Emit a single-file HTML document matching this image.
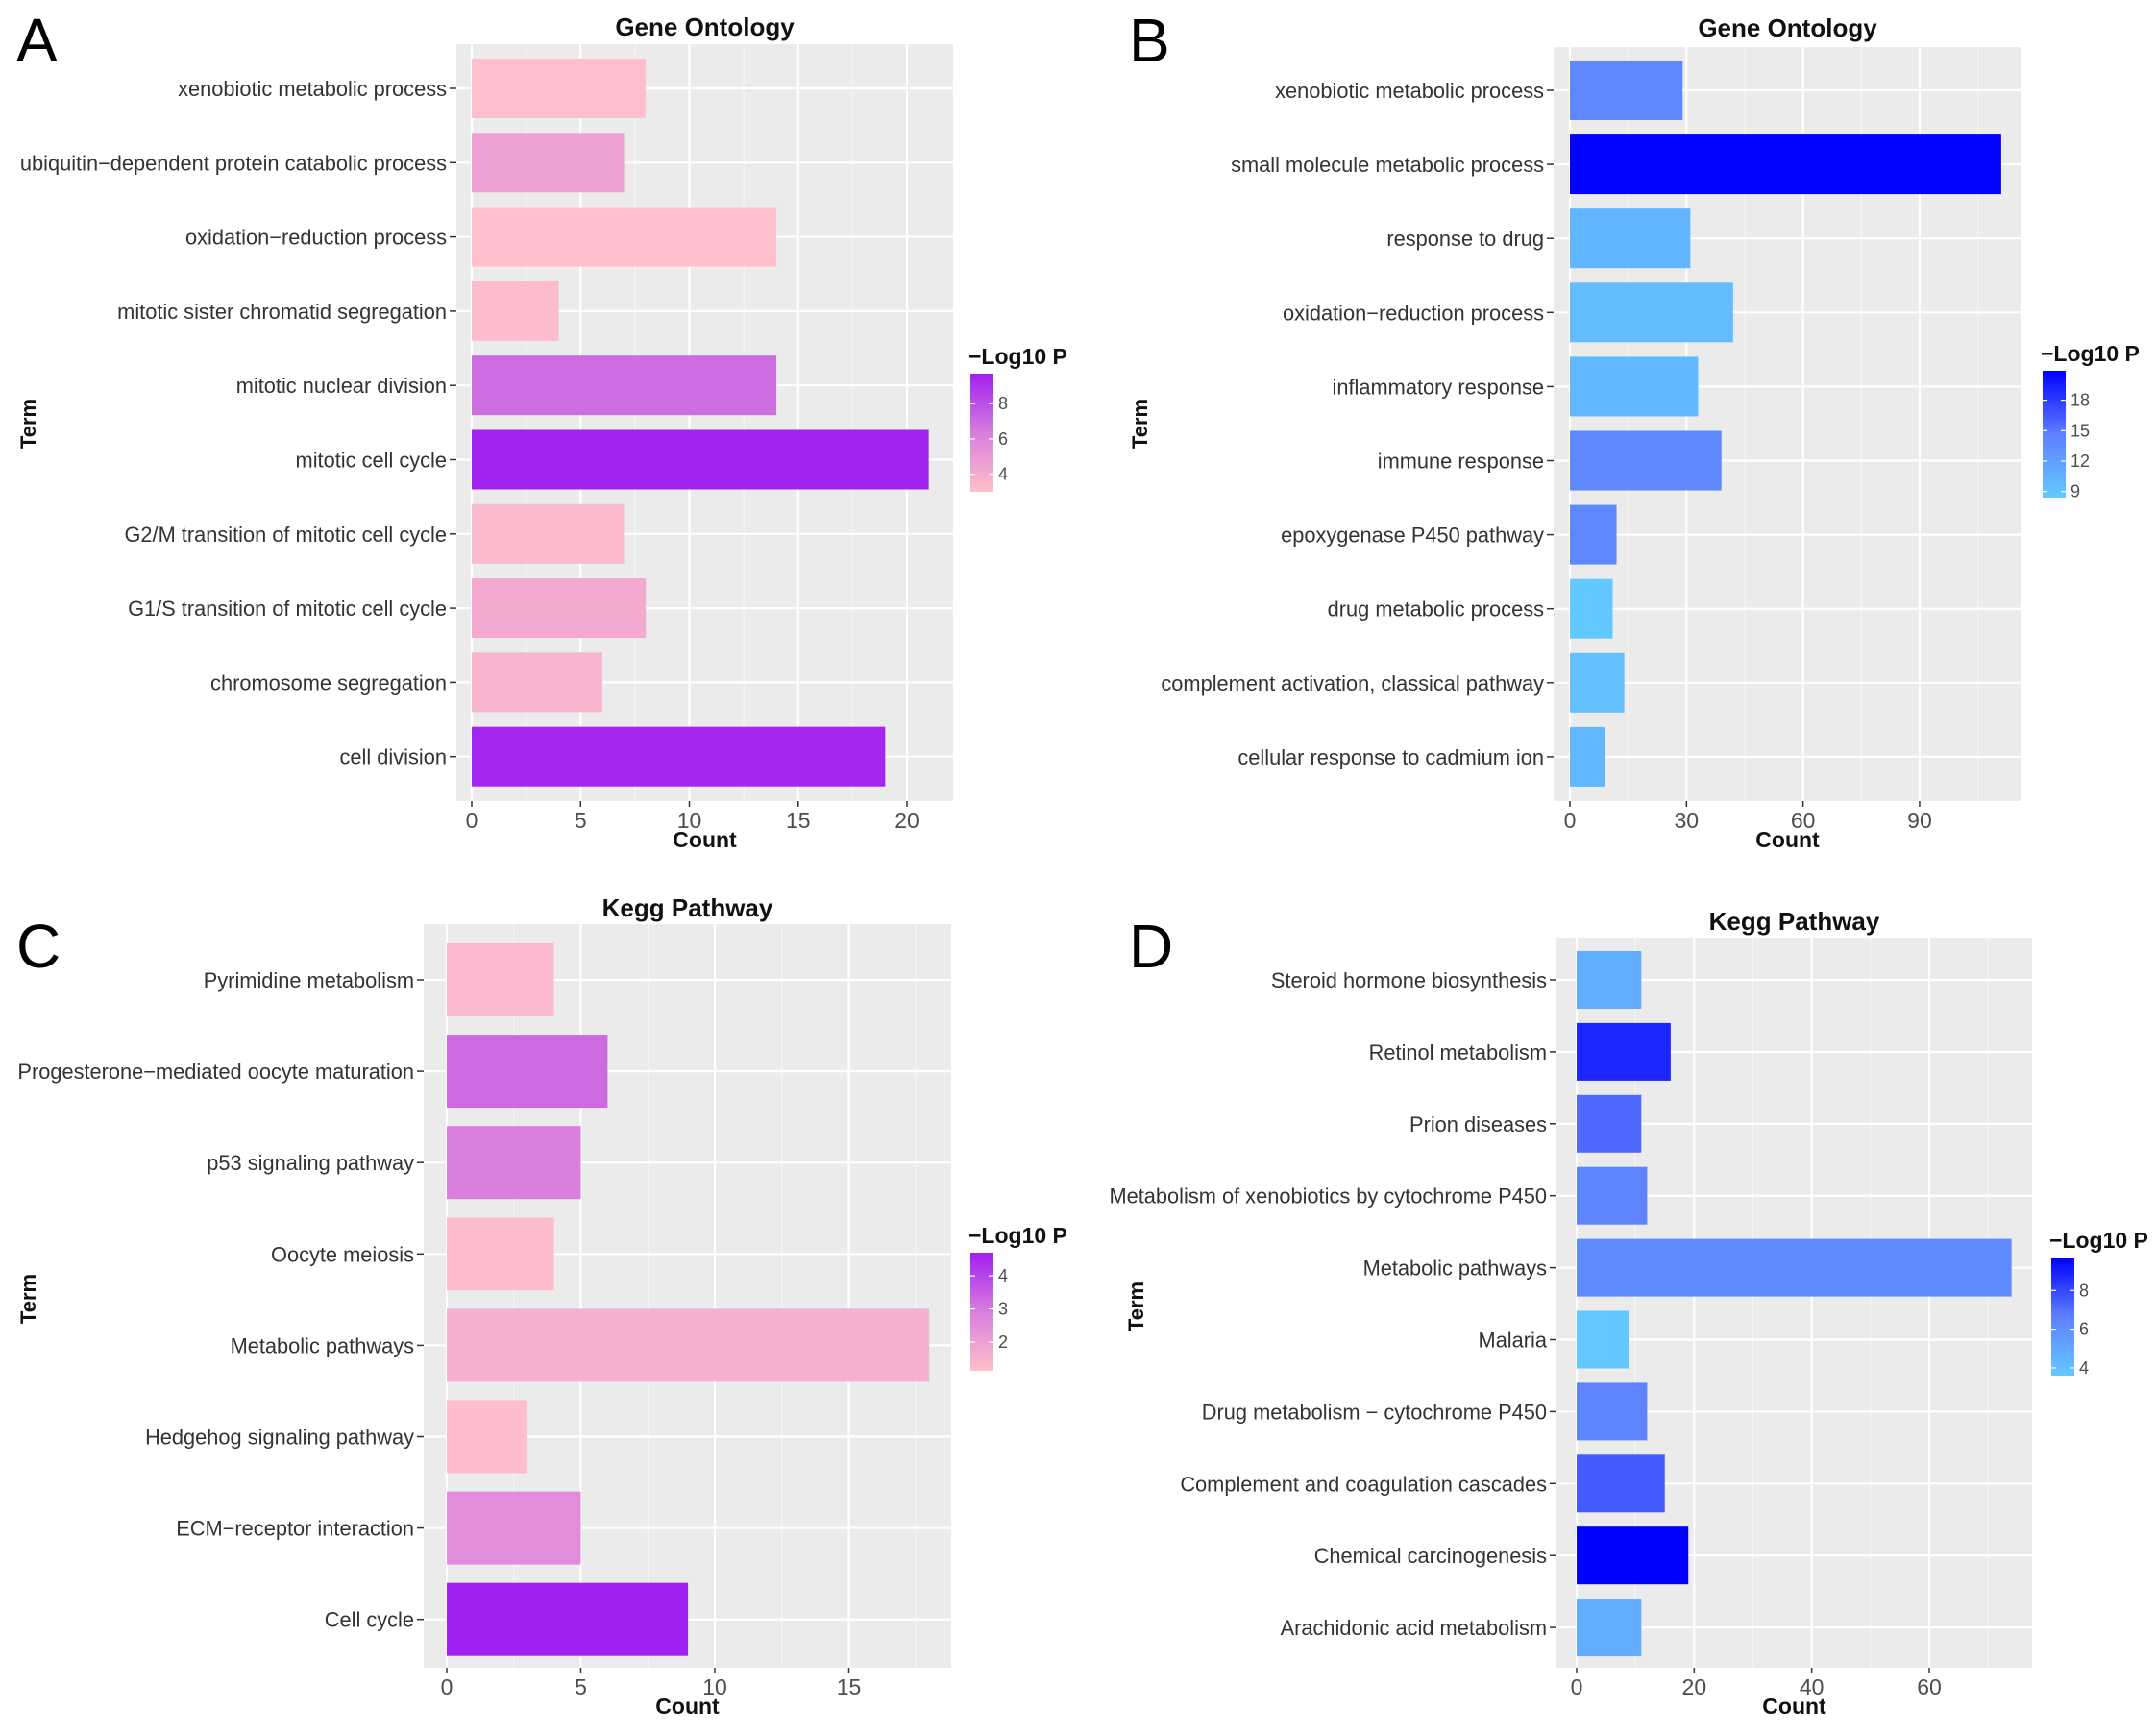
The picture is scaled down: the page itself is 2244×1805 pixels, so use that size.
<!DOCTYPE html>
<html><head><meta charset="utf-8"><style>
html,body{margin:0;padding:0;background:#fff;}
svg{display:block;font-family:"Liberation Sans",Arial,sans-serif;}
</style></head><body>
<svg id="fig" width="2244" height="1805" viewBox="0 0 2244 1805" xmlns="http://www.w3.org/2000/svg"></svg>
<script>
// Panel A data
const termsA = ["xenobiotic metabolic process","ubiquitin\u2212dependent protein catabolic process","oxidation\u2212reduction process","mitotic sister chromatid segregation","mitotic nuclear division","mitotic cell cycle","G2/M transition of mitotic cell cycle","G1/S transition of mitotic cell cycle","chromosome segregation","cell division"];
const countsA = [8,7,14,4,14,21,7,8,6,19];
const logpA = [3.1,4.6,3.0,3.2,7.0,9.6,3.3,4.1,3.6,9.5];
const ticksA = [0,5,10,15,20];
const legendTicksA = [4,6,8];
// Panel B data
const termsB = ["xenobiotic metabolic process","small molecule metabolic process","response to drug","oxidation\u2212reduction process","inflammatory response","immune response","epoxygenase P450 pathway","drug metabolic process","complement activation, classical pathway","cellular response to cadmium ion"];
const countsB = [29,111,31,42,33,39,12,11,14,9];
const logpB = [14,20.8,10,9.5,9.8,14,14,8.5,9.2,9.8];
const ticksB = [0,30,60,90];
const legendTicksB = [9,12,15,18];
// Panel C data
const termsC = ["Pyrimidine metabolism","Progesterone\u2212mediated oocyte maturation","p53 signaling pathway","Oocyte meiosis","Metabolic pathways","Hedgehog signaling pathway","ECM\u2212receptor interaction","Cell cycle"];
const countsC = [4,6,5,4,18,3,5,9];
const logpC = [1.3,3.3,2.9,1.2,1.6,1.2,2.5,4.7];
const ticksC = [0,5,10,15];
const legendTicksC = [2,3,4];
// Panel D data
const termsD = ["Steroid hormone biosynthesis","Retinol metabolism","Prion diseases","Metabolism of xenobiotics by cytochrome P450","Metabolic pathways","Malaria","Drug metabolism \u2212 cytochrome P450","Complement and coagulation cascades","Chemical carcinogenesis","Arachidonic acid metabolism"];
const countsD = [11,16,11,12,74,9,12,15,19,11];
const logpD = [4.8,8.8,7.2,6.5,6.2,3.7,6.5,7.5,9.7,4.8];
const ticksD = [0,20,40,60];
const legendTicksD = [4,6,8];

const NS="http://www.w3.org/2000/svg";
const svg=document.getElementById('fig');
function mk(tag,attrs,parent,text){const e=document.createElementNS(NS,tag);for(const k in attrs)e.setAttribute(k,attrs[k]);if(text!==undefined)e.textContent=text;(parent||svg).appendChild(e);return e;}
function hex(c){return [parseInt(c.slice(1,3),16),parseInt(c.slice(3,5),16),parseInt(c.slice(5,7),16)];}
function lerp2(c1,c2,t){const a=hex(c1),b=hex(c2);return 'rgb('+a.map((v,i)=>Math.round(v+(b[i]-v)*t)).join(',')+')';}
function ramp(low,mid,high,t){t=Math.max(0,Math.min(1,t));return t<0.5?lerp2(low,mid,t*2):lerp2(mid,high,(t-0.5)*2);}

function panel(cfg){
  const g=mk('g',{});
  
  
  const xs=v=>cfg.x0+v*cfg.unit;
  const ys=i=>cfg.yTop+i*cfg.step;
  const bg=mk('rect',{x:cfg.px0,y:cfg.py0,width:cfg.px1-cfg.px0,height:cfg.py1-cfg.py0,fill:'#EBEBEB'},g);
  
  
  const d=cfg.ticks[1]-cfg.ticks[0];
  for(let k=-1;k<cfg.ticks.length;k++){
    const xm=xs(cfg.ticks[0]+d*(k+0.5));
    if(xm>cfg.px0&&xm<cfg.px1) mk('line',{x1:xm,x2:xm,y1:cfg.py0,y2:cfg.py1,stroke:'#F5F5F5','stroke-width':1.2},g);
  }
  cfg.ticks.forEach(t=>{const x=xs(t);
    const gl=mk('line',{x1:x,x2:x,y1:cfg.py0,y2:cfg.py1,stroke:'#fff','stroke-width':2.2},g);
    
    
    mk('line',{x1:x,x2:x,y1:cfg.py1,y2:cfg.py1+6,stroke:'#333','stroke-width':1.5},g);
    const tl=mk('text',{x:x,y:cfg.py1+28,'text-anchor':'middle','font-size':23,fill:'#4D4D4D'},g,String(t));
    
    
  });
  cfg.terms.forEach((term,i)=>{const y=ys(i);
    mk('line',{x1:cfg.px0,x2:cfg.px1,y1:y,y2:y,stroke:'#fff','stroke-width':2.2},g);
    mk('line',{x1:cfg.px0-7,x2:cfg.px0,y1:y,y2:y,stroke:'#333','stroke-width':1.5},g);
    const lab=mk('text',{x:cfg.px0-10,y:y+8,'text-anchor':'end','font-size':21.8,fill:'#333'},g,term);
    
    
  });
  cfg.terms.forEach((term,i)=>{const y=ys(i);
    const t=(cfg.logp[i]-cfg.lmin)/(cfg.lmax-cfg.lmin);
    const b=mk('rect',{x:xs(0),y:y-cfg.barH/2,width:xs(cfg.counts[i])-xs(0),height:cfg.barH,fill:ramp(cfg.low,cfg.mid,cfg.high,t)},g);
    
    
  });
  const ti=mk('text',{x:(cfg.px0+cfg.px1)/2,y:cfg.titleY,'text-anchor':'middle','font-size':26,'font-weight':'bold',fill:'#111'},g,cfg.title);
  
  
  const xt=mk('text',{x:(cfg.px0+cfg.px1)/2,y:cfg.py1+48,'text-anchor':'middle','font-size':23,'font-weight':'bold',fill:'#111'},g,'Count');
  
  
  const yt=mk('text',{x:0,y:0,transform:'translate('+(cfg.termX+8)+','+cfg.termY+') rotate(-90)','text-anchor':'middle','font-size':22,'font-weight':'bold',fill:'#111'},g,'Term');
  
  
  const pl=mk('text',{x:cfg.letterX,y:cfg.letterY,'font-size':64,fill:'#000'},g,cfg.letter);
  
  
  const lg=mk('g',{},g);
  
  
  mk('text',{x:cfg.legX-2,y:cfg.legY0-10,'font-size':23,'font-weight':'bold',fill:'#111'},lg,'\u2212Log10 P');
  const gid='grad'+cfg.id;
  const defs=mk('defs',{},lg);
  const gr=mk('linearGradient',{id:gid,x1:0,y1:1,x2:0,y2:0},defs);
  mk('stop',{offset:0,'stop-color':cfg.low},gr);mk('stop',{offset:0.5,'stop-color':cfg.mid},gr);mk('stop',{offset:1,'stop-color':cfg.high},gr);
  mk('rect',{x:cfg.legX,y:cfg.legY0,width:24,height:cfg.legY1-cfg.legY0,fill:'url(#'+gid+')'},lg);
  const ly=v=>cfg.legY1-(v-cfg.lmin)/(cfg.lmax-cfg.lmin)*(cfg.legY1-cfg.legY0);
  cfg.legTicks.forEach(v=>{const y=ly(v);
    mk('line',{x1:cfg.legX,x2:cfg.legX+5,y1:y,y2:y,stroke:'#fff','stroke-width':1.2},lg);
    mk('line',{x1:cfg.legX+19,x2:cfg.legX+24,y1:y,y2:y,stroke:'#fff','stroke-width':1.2},lg);
    mk('text',{x:cfg.legX+29,y:y+6,'font-size':18,fill:'#4D4D4D'},lg,String(v));
  });
}
const purpleLow='#FFC0CB', purpleMid='#D97EDD', purpleHigh='#A020F0';
const blueLow='#63C9FF', blueMid='#5E80FF', blueHigh='#0000FF';
panel({id:'a',letter:'A',letterX:17,letterY:64,title:'Gene Ontology',titleY:37,terms:termsA,counts:countsA,logp:logpA,ticks:ticksA,legTicks:legendTicksA,
 px0:475,px1:992,py0:46,py1:834,x0:491,unit:22.65,yTop:92,step:77.3,barH:62,termX:29,termY:441,
 low:purpleLow,mid:purpleMid,high:purpleHigh,lmin:3.0,lmax:9.7,legX:1010,legY0:389,legY1:512});
panel({id:'b',letter:'B',letterX:1175,letterY:64,title:'Gene Ontology',titleY:38,terms:termsB,counts:countsB,logp:logpB,ticks:ticksB,legTicks:legendTicksB,
 px0:1617,px1:2104,py0:49,py1:834,x0:1634,unit:4.044,yTop:94,step:77.1,barH:62,termX:1186,termY:441,
 low:blueLow,mid:blueMid,high:blueHigh,lmin:8.4,lmax:20.9,legX:2126,legY0:386,legY1:518});
panel({id:'c',letter:'C',letterX:17,letterY:1007,title:'Kegg Pathway',titleY:954,terms:termsC,counts:countsC,logp:logpC,ticks:ticksC,legTicks:legendTicksC,
 px0:441,px1:990,py0:962,py1:1736,x0:465,unit:27.9,yTop:1020,step:95.1,barH:76,termX:29,termY:1352,
 low:purpleLow,mid:purpleMid,high:purpleHigh,lmin:1.13,lmax:4.7,legX:1010,legY0:1304,legY1:1427});
panel({id:'d',letter:'D',letterX:1175,letterY:1007,title:'Kegg Pathway',titleY:968,terms:termsD,counts:countsD,logp:logpD,ticks:ticksD,legTicks:legendTicksD,
 px0:1620,px1:2115,py0:976,py1:1736,x0:1641,unit:6.117,yTop:1020,step:74.9,barH:60,termX:1182,termY:1360,
 low:blueLow,mid:blueMid,high:blueHigh,lmin:3.6,lmax:9.7,legX:2135,legY0:1309,legY1:1432});
</script>
</body></html>
